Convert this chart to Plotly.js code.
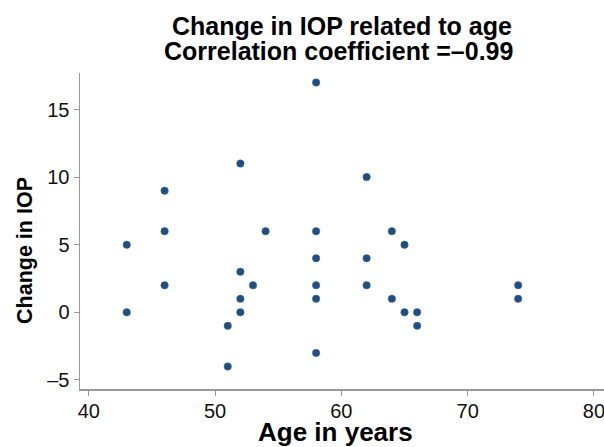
<!DOCTYPE html>
<html>
<head>
<meta charset="utf-8">
<script src="https://cdn.plot.ly/plotly-3.0.1.min.js"></script>
<style>html,body{margin:0;padding:0;background:#fff;}#chart{width:604px;height:447px;}</style>
</head>
<body>
<div id="chart"></div>
<script>
const ages = [58, 52, 46, 46, 54, 58, 43, 58, 52, 46, 53, 58, 52, 58, 43, 52, 51, 58, 51,
              62, 64, 65, 62, 62, 64, 65, 66, 66, 74, 74];
const iopChange = [17, 11, 9, 6, 6, 6, 5, 4, 3, 2, 2, 2, 1, 1, 0, 0, -1, -3, -4,
                   10, 6, 5, 4, 2, 1, 0, 0, -1, 2, 1];
const xTicks = [40, 50, 60, 70, 80];
const yTicks = [-5, 0, 5, 10, 15];
const titleLines = ['Change in IOP related to age', 'Correlation coefficient =–0.99'];
const xTitle = 'Age in years';
const yTitle = 'Change in IOP';

const FONT = 'Liberation Sans, Arial, sans-serif';
const trace = {
  x: ages, y: iopChange, type: 'scatter', mode: 'markers',
  marker: {color: '#1f4e7f', size: 7.5, line: {color: '#4a6f99', width: 0.5}},
  hoverinfo: 'x+y'
};
const axisCommon = {
  showgrid: false, zeroline: false, showline: true, linecolor: '#9a9a9a', linewidth: 1.5,
  ticks: 'outside', ticklen: 5, tickcolor: '#9a9a9a', tickwidth: 1,
  tickfont: {family: FONT, size: 20, color: '#111'},
  ticklabeloverflow: 'allow',
  mirror: false
};
const layout = {
  width: 604, height: 447,
  margin: {l: 80, r: 0, t: 73, b: 58},
  paper_bgcolor: '#fff', plot_bgcolor: '#fff',
  showlegend: false,
  annotations: [
    {text: '<b>' + titleLines[0] + '</b>', xref: 'paper', yref: 'paper', x: 0.5, y: 1.149,
     xanchor: 'center', yanchor: 'middle', showarrow: false,
     font: {family: FONT, size: 25, color: '#000'}},
    {text: '<b>' + titleLines[1] + '</b>', xref: 'paper', yref: 'paper', x: 0.494, y: 1.07,
     xanchor: 'center', yanchor: 'middle', showarrow: false,
     font: {family: FONT, size: 25, color: '#000'}},
    {text: '<b>' + xTitle + '</b>', xref: 'paper', yref: 'paper', x: 0.487, y: -0.135,
     xanchor: 'center', yanchor: 'middle', showarrow: false,
     font: {family: FONT, size: 26, color: '#000'}},
    {text: '<b>' + yTitle + '</b>', xref: 'paper', yref: 'paper', x: -0.105, y: 0.44,
     xanchor: 'center', yanchor: 'middle', showarrow: false, textangle: -90,
     font: {family: FONT, size: 21.5, color: '#000'}}
  ],
  xaxis: Object.assign({}, axisCommon, {
    range: [39.3, 80.8], tickvals: xTicks, ticktext: xTicks.map(String), ticklabelstandoff: -2
  }),
  yaxis: Object.assign({}, axisCommon, {
    range: [-5.67, 17.7], tickvals: yTicks, ticktext: yTicks.map(v => v < 0 ? '–' + Math.abs(v) : String(v))
  })
};
Plotly.newPlot('chart', [trace], layout, {displayModeBar: false, staticPlot: true});
</script>
</body>
</html>
